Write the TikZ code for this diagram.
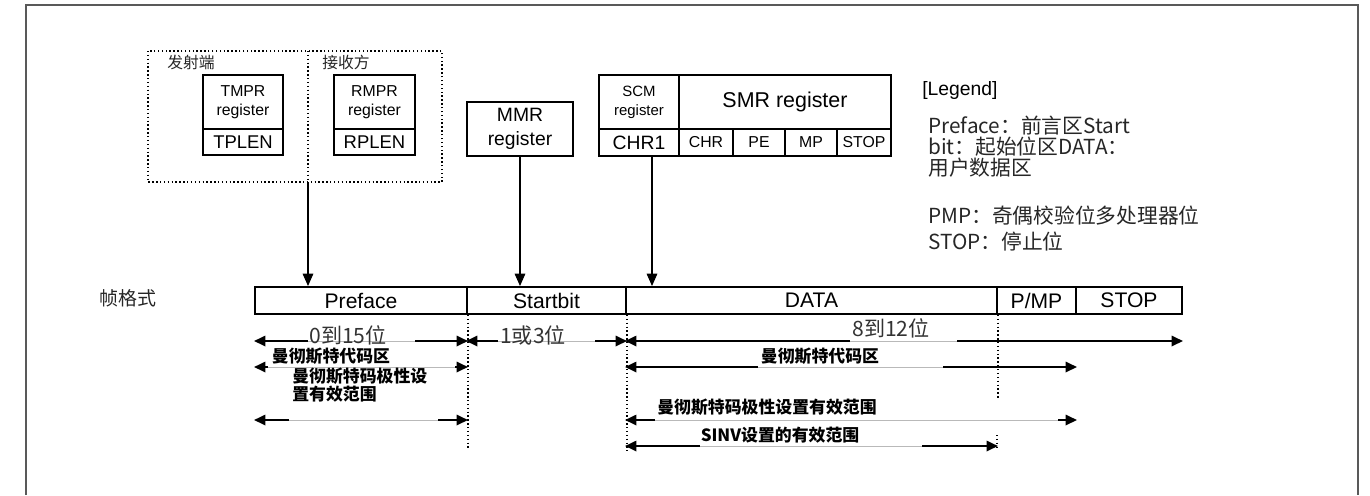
\documentclass[tikz,border=0pt]{standalone}
\usepackage{fontspec}
\setmainfont{Liberation Sans}
\newfontfamily\cjk{Noto Sans CJK SC}
\usepackage{tikz}
\usetikzlibrary{positioning,arrows.meta,calc}

\begin{document}
\begin{tikzpicture}[
        x=0.02cm, y=-0.02cm,
        regbox/.style={draw, line width=1.1pt, inner sep=0pt, align=center, font=\fontsize{9}{10.5}\selectfont},
        cell/.style={draw, line width=1.1pt, inner sep=0pt, minimum height=0.54cm, font=\fontsize{12}{13}\selectfont},
        feed/.style={-{Triangle[length=7pt,width=6pt]}, line width=0.7pt},
        span/.style={{Triangle[length=6.5pt,width=6pt]}-{Triangle[length=6.5pt,width=6pt]}, line width=0.9pt},
        gapline/.style={draw=white, double=gray!55, double distance=0.4pt, line width=0.5pt},
        dotline/.style={line width=0.8pt, dash pattern=on 0.8pt off 1.4pt},
        lenlabel/.style={font=\cjk\fontsize{12}{13}\selectfont, text=black!80, inner sep=0pt},
        rangelabel/.style={font=\cjk\bfseries\fontsize{9.6}{10.2}\selectfont, inner sep=0pt, align=left},
        legend/.style={font=\cjk\fontsize{11.8}{10.8}\selectfont, text=black!85, inner sep=0pt, align=left, anchor=west}
    ]
    \useasboundingbox (0,0) rectangle (1370,495);

    % outer frame
    \draw[line width=1.2pt, black!65] (26,495) -- (26,5) -- (1358,5) -- (1358,495);

    % sender / receiver
    \draw[dotline] (148,51) rectangle (442,182);
    \draw[dotline] (308,51) -- (308,182);
    \coordinate (divb) at (308,182);
    \node[font=\cjk\fontsize{9}{10}\selectfont, text=black!85] (tx) at (191,62) {发射端};
    \node[font=\cjk\fontsize{9}{10}\selectfont, text=black!85] (rx) at (346,62) {接收方};

    \node[regbox, minimum width=1.6cm, minimum height=1.08cm] (tmpr) at (243,102) {TMPR\\register};
    \node[regbox, minimum width=1.6cm, minimum height=0.52cm, font=\fontsize{10.5}{12}\selectfont] (tplen) at (243,142) {TPLEN};
    \node[regbox, minimum width=1.62cm, minimum height=1.08cm] (rmpr) at (374.5,102) {RMPR\\register};
    \node[regbox, minimum width=1.62cm, minimum height=0.52cm, font=\fontsize{10.5}{12}\selectfont] (rplen) at (374.5,142) {RPLEN};

    % mode registers
    \node[regbox, minimum width=2.12cm, minimum height=1.08cm, font=\fontsize{11}{13.6}\selectfont] (mmr) at (520,129) {MMR\\register};
    \node[regbox, minimum width=1.6cm, minimum height=1.08cm, font=\fontsize{8.5}{11}\selectfont] (scm) at (639,102) {SCM\\register};
    \node[regbox, minimum width=4.24cm, minimum height=1.08cm, font=\fontsize{12.2}{14}\selectfont] (smr) at (785,102) {SMR register};
    \node[regbox, minimum width=1.6cm, minimum height=0.54cm, font=\fontsize{11}{12}\selectfont] (chr1) at (639,142.5) {CHR1};
    \node[regbox, minimum width=1.08cm, minimum height=0.54cm] (chr) at (706,142.5) {CHR};
    \node[regbox, minimum width=1.04cm, minimum height=0.54cm] (pe) at (759,142.5) {PE};
    \node[regbox, minimum width=1.04cm, minimum height=0.54cm] (mp) at (811,142.5) {MP};
    \node[regbox, minimum width=1.08cm, minimum height=0.54cm] (stopbit) at (864,142.5) {STOP};

    % legend
    \node[font=\fontsize{11}{12}\selectfont, anchor=west, inner sep=0pt] (leg) at (922,90) {[Legend]};
    \node[legend] (leg1) at (928,147) {Preface：前言区Start\\bit：起始位区DATA：\\用户数据区};
    \node[legend] (leg2) at (928,216) {PMP：奇偶校验位多处理器位};
    \node[legend] (leg3) at (928,242) {STOP：停止位};

    % frame format
    \node[font=\cjk\fontsize{10.8}{12}\selectfont, text=black!85] (fmt) at (128,298) {帧格式};
    \node[cell, minimum width=4.24cm] (pre) at (361,300.5) {Preface};
    \node[cell, minimum width=3.18cm] (stb) at (546.5,300.5) {Startbit};
    \node[cell, minimum width=7.42cm] (data) at (811.5,300.5) {DATA};
    \node[cell, minimum width=1.58cm] (pmp) at (1036.5,300.5) {P/MP};
    \node[cell, minimum width=2.12cm] (stp) at (1129,300.5) {STOP};

    \draw[feed] (divb) -- (divb |- pre.north);
    \draw[feed] (mmr.south) -- (mmr.south |- pre.north);
    \draw[feed] ($(chr1.south)+(13,0)$) coordinate (c1) -- (c1 |- pre.north);

    % boundaries
    \draw[dotline] (pre.south east) -- ++(0,133);
    \draw[dotline] (stb.south east) -- ++(0,136);
    \draw[dotline] (data.south east) -- ++(0,83);
    \draw[dotline] (997,435) -- (997,447);

    % ranges
    \coordinate (r1) at (0,341);
    \coordinate (r2) at (0,367);
    \coordinate (r3) at (0,420);
    \coordinate (r4) at (0,446);

    \draw[span] (pre.west |- r1) -- (pre.east |- r1);
    \draw[gapline] (308,341) -- (415,341);
    \draw[span] (stb.west |- r1) -- (stb.east |- r1);
    \draw[gapline] (498,341) -- (595,341);
    \draw[span] (data.west |- r1) -- (stp.east |- r1);
    \draw[gapline] (850,341) -- (957,341);
    \node[lenlabel] (len1) at (348,335) {0到15位};
    \node[lenlabel] (len2) at (533,335) {1或3位};
    \node[lenlabel] (len3) at (891,328) {8到12位};

    \draw[span] (pre.west |- r2) -- (pre.east |- r2);
    \draw[gapline] (268,367) -- (455,367);
    \draw[span] (data.west |- r2) -- (pmp.east |- r2);
    \draw[gapline] (758,367) -- (943,367);
    \node[rangelabel] (man1) at (331,356) {曼彻斯特代码区};
    \node[rangelabel] (man2) at (820,356) {曼彻斯特代码区};

    \draw[span] (pre.west |- r3) -- (pre.east |- r3);
    \draw[gapline] (289,420) -- (438,420);
    \draw[span] (data.west |- r3) -- (pmp.east |- r3);
    \draw[gapline] (655,420) -- (1058,420);
    \node[rangelabel, anchor=west] (pol1) at (292,385) {曼彻斯特码极性设\\置有效范围};
    \node[rangelabel, anchor=west] (pol2) at (657,407) {曼彻斯特码极性设置有效范围};

    \draw[span] (data.west |- r4) -- (data.east |- r4);
    \draw[gapline] (700,446) -- (922,446);
    \node[rangelabel] (sinv) at (780,435) {SINV设置的有效范围};
\end{tikzpicture}
\end{document}
